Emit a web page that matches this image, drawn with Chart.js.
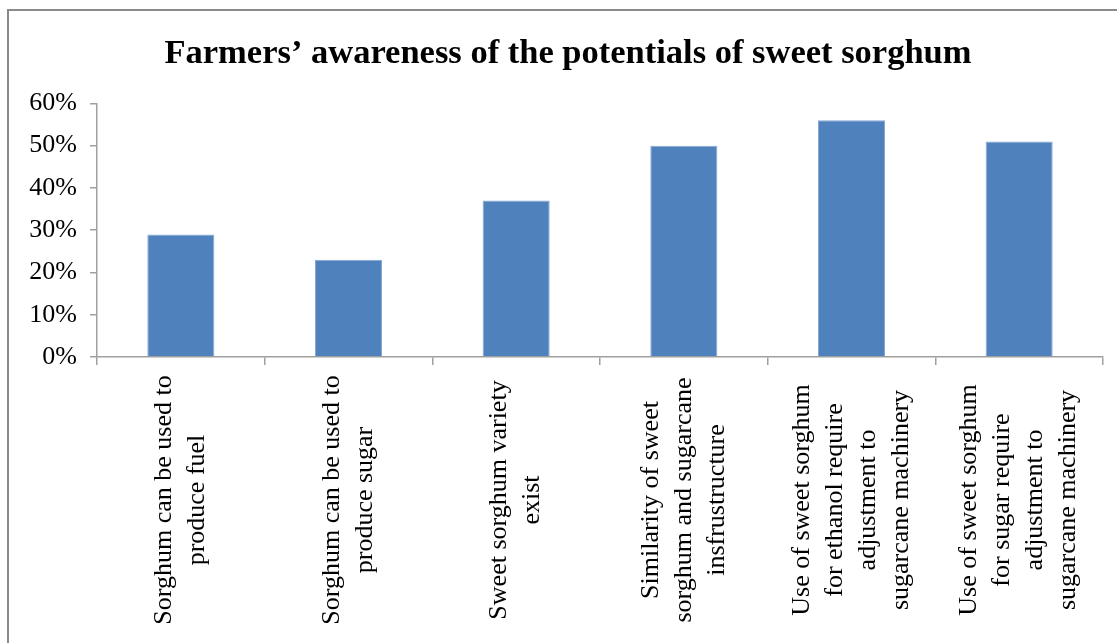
<!DOCTYPE html>
<html>
<head>
<meta charset="utf-8">
<script src="https://cdn.jsdelivr.net/npm/chart.js@4/dist/chart.umd.min.js"></script>
<style>
  html, body { margin: 0; padding: 0; background: #fff; overflow: hidden; }
  #wrap { position: relative; width: 1117px; height: 643px; }
  #frame {
    position: absolute; left: 7px; top: 9px; width: 2000px; height: 2000px;
    border-top: 2px solid #8a8a8a; border-left: 2px solid #8a8a8a;
    pointer-events: none;
  }
</style>
</head>
<body>
<div id="wrap">
  <canvas id="awarenessChart" width="1117" height="643"></canvas>
  <div id="frame"></div>
</div>
<script>
const chartTitle = 'Farmers\u2019 awareness of the potentials of sweet sorghum';

// each category is split into the lines it is printed on
const categories = [
  ['Sorghum can be used to', 'produce fuel'],
  ['Sorghum can be used to', 'produce sugar'],
  ['Sweet sorghum variety', 'exist'],
  ['Similarity of sweet', 'sorghum and sugarcane', 'insfrustructure'],
  ['Use of sweet sorghum', 'for ethanol require', 'adjustment to', 'sugarcane machinery'],
  ['Use of sweet sorghum', 'for sugar require', 'adjustment to', 'sugarcane machinery']
];

const awareness = [29, 23, 37, 50, 56, 51];

const yTicks = [0, 10, 20, 30, 40, 50, 60];

const serif = '"Liberation Serif", "Times New Roman", serif';
const axisGrey = '#a0a0a0';

// rotated, centred category labels under the x axis
const categoryLabels = {
  id: 'categoryLabels',
  afterLayout(chart) {
    // centre the title over the whole frame rather than the padded box
    chart.titleBlock.left = 33;
  },
  afterDraw(chart) {
    const xs = chart.scales.x;
    const ctx = chart.ctx;
    const midY = (xs.top + xs.bottom) / 2;
    const gap = 33;
    ctx.save();
    ctx.font = '26px ' + serif;
    ctx.fillStyle = '#000';
    ctx.textAlign = 'center';
    ctx.textBaseline = 'middle';
    categories.forEach((lines, i) => {
      ctx.save();
      ctx.translate(xs.getPixelForTick(i), midY);
      ctx.rotate(-Math.PI / 2);
      lines.forEach((line, j) => {
        ctx.fillText(line, 0, (j - (lines.length - 1) / 2) * gap);
      });
      ctx.restore();
    });
    ctx.restore();
  }
};

const ctx = document.getElementById('awarenessChart').getContext('2d');
new Chart(ctx, {
  type: 'bar',
  data: {
    labels: categories,
    datasets: [{
      data: awareness,
      backgroundColor: '#4f81bd',
      borderColor: '#86a7d4',
      borderWidth: 1,
      barPercentage: 0.4,
      categoryPercentage: 1
    }]
  },
  options: {
    responsive: false,
    animation: false,
    layout: { padding: { left: 0, right: 14, top: 0, bottom: 0 } },
    plugins: {
      legend: { display: false },
      tooltip: { enabled: false },
      title: {
        display: true,
        text: chartTitle,
        color: '#000',
        font: { family: serif, size: 34.5, weight: 'bold' },
        padding: { top: 33, bottom: 29 }
      }
    },
    scales: {
      x: {
        grid: {
          offset: true,
          drawOnChartArea: false,
          drawTicks: true,
          tickLength: 8,
          color: axisGrey,
          lineWidth: 1.5
        },
        border: { display: true, color: axisGrey, width: 1.5 },
        ticks: { display: false },
        afterFit(scale) { scale.height = 286; }
      },
      y: {
        min: 0,
        max: 60,
        grid: {
          drawOnChartArea: false,
          drawTicks: true,
          tickLength: 7,
          color: axisGrey,
          lineWidth: 1.5
        },
        border: { display: true, color: axisGrey, width: 1.5 },
        afterBuildTicks(scale) {
          scale.ticks = yTicks.map(v => ({ value: v }));
        },
        ticks: {
          color: '#000',
          padding: 13,
          font: { family: serif, size: 26 },
          callback: value => value + '%'
        },
        afterFit(scale) { scale.width = 97; }
      }
    }
  },
  plugins: [categoryLabels]
});
</script>
</body>
</html>
